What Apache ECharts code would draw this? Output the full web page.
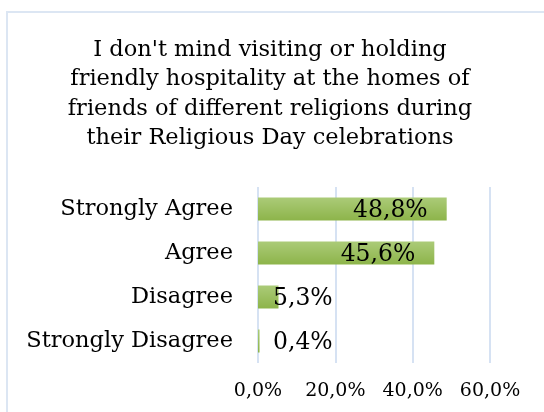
<!DOCTYPE html>
<html>
<head>
<meta charset="utf-8">
<script src="https://cdn.jsdelivr.net/npm/echarts@6/dist/echarts.min.js"></script>
<style>
  html, body { margin: 0; padding: 0; background: #fff; }
  #chart { width: 544px; height: 412px; }
</style>
</head>
<body>
<div id="chart"></div>
<script>
// Survey answers, listed top to bottom
const categories = ['Strongly Agree', 'Agree', 'Disagree', 'Strongly Disagree'];
const shares = [48.8, 45.6, 5.3, 0.4];
const axisTicks = [0, 20, 40, 60];

const titleText = "I don't mind visiting or holding\nfriendly hospitality at the homes of\nfriends of different religions during\ntheir Religious Day celebrations";

const serif = 'DejaVu Serif';
const fmt = v => v.toFixed(1).replace('.', ',') + '%';

const chart = echarts.init(document.getElementById('chart'), null, { renderer: 'canvas' });

const barFill = new echarts.graphic.LinearGradient(0, 0, 0, 1, [
  { offset: 0, color: '#abcb78' },
  { offset: 1, color: '#8db44a' }
]);

chart.setOption({
  animation: false,
  backgroundColor: '#ffffff',
  graphic: [{
    type: 'rect',
    shape: { x: 7, y: 12, width: 700, height: 600 },
    style: { fill: 'none', stroke: '#dce6f3', lineWidth: 2 },
    silent: true,
    z: -1
  }],
  title: {
    text: titleText,
    left: 265,
    textAlign: 'center',
    top: 30,
    textStyle: {
      fontFamily: serif,
      fontWeight: 'normal',
      fontSize: 22.5,
      lineHeight: 29.6,
      color: '#000'
    }
  },
  grid: { left: 258, right: 54, top: 187, bottom: 49, containLabel: false },
  xAxis: {
    type: 'value',
    min: axisTicks[0],
    max: axisTicks[axisTicks.length - 1],
    interval: axisTicks[1] - axisTicks[0],
    axisLine: { show: false },
    axisTick: { show: false },
    splitLine: { show: true, lineStyle: { color: '#d6e2f3', width: 2 } },
    axisLabel: {
      formatter: v => fmt(v),
      fontFamily: serif,
      fontSize: 19,
      color: '#000',
      margin: 19
    }
  },
  yAxis: {
    type: 'category',
    inverse: true,
    data: categories,
    axisLine: { show: false },
    axisTick: { show: false },
    splitLine: { show: false },
    axisLabel: {
      fontFamily: serif,
      fontSize: 22.5,
      color: '#000',
      margin: 25
    }
  },
  series: [{
    type: 'bar',
    barWidth: 23,
    itemStyle: { color: barFill },
    data: shares.map(v => {
      const big = v > 20;
      return {
        value: v,
        label: {
          show: true,
          position: big ? 'insideRight' : 'insideLeft',
          distance: big ? 19 : 15,
          offset: [0, 2],
          formatter: p => fmt(p.value),
          fontFamily: serif,
          fontSize: 23.5,
          color: '#000'
        }
      };
    })
  }]
});
</script>
</body>
</html>
